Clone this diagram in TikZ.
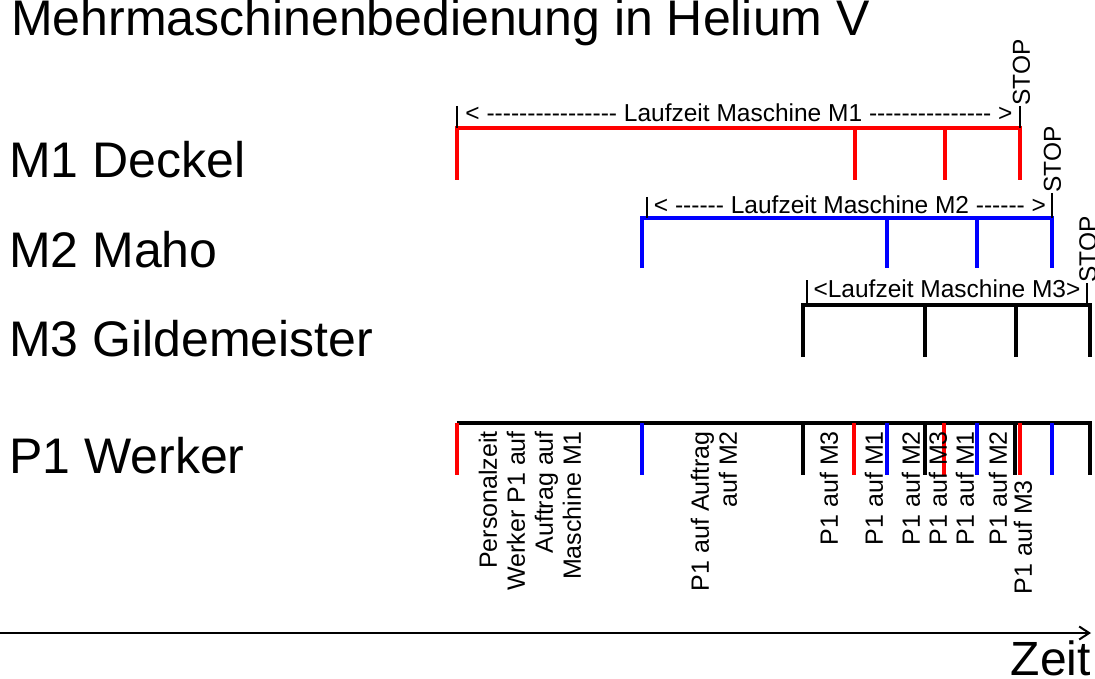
\documentclass[tikz,border=0pt]{standalone}
\usepackage{fontspec}
\setmainfont{Liberation Sans}
\usetikzlibrary{arrows.meta}
\begin{document}
\begin{tikzpicture}[x=1pt,y=-1pt,
  big/.style={font=\fontsize{50}{56}\selectfont, inner sep=0pt, anchor=base west},
  smalllab/.style={font=\fontsize{24.5}{28}\selectfont, inner sep=0pt, anchor=base},
  stoplab/.style={font=\fontsize{24.5}{28}\selectfont, inner sep=0pt, rotate=90, anchor=west},
  rlab/.style={font=\fontsize{25}{28}\selectfont, inner sep=0pt, rotate=90, anchor=east, align=right},
  bar/.style={line width=4.5pt, line join=miter},
  tick/.style={line width=1.3pt, black},
  axis/.style={line width=2pt, -{Straight Barb[length=10pt,width=13pt,line width=2pt]}}
]
\useasboundingbox (0,0) rectangle (1095,679);

% titles and row labels
\node[big] (title) at (11,36) {Mehrmaschinenbedienung in Helium V};
\node[big] (m1) at (9,178) {M1 Deckel};
\node[big] (m2) at (9,267) {M2 Maho};
\node[big] (m3) at (9,356) {M3 Gildemeister};
\node[big] (p1) at (9,473) {P1 Werker};

% ---- M1 (red)
\coordinate (a1) at (457,128); \coordinate (b1) at (1020,128);
\draw[bar, red] (457,180) -- (a1) -- (b1) -- (1020,180);
\draw[bar, red] (855,128) -- (855,180);
\draw[bar, red] (945,128) -- (945,180);
\draw[tick] (457,106) -- (a1);
\draw[tick] (1020,106) -- (b1);
\node[smalllab] (l1) at (739,122) {< {-}{-}{-}{-}{-}{-}{-}{-}{-}{-}{-}{-}{-}{-}{-}{-} Laufzeit Maschine M1 {-}{-}{-}{-}{-}{-}{-}{-}{-}{-}{-}{-}{-}{-}{-} >};
\node[stoplab] (s1) at (1021.5,106) {STOP};

% ---- M2 (blue)
\coordinate (a2) at (642,218); \coordinate (b2) at (1052,218);
\draw[bar, blue] (642,268) -- (a2) -- (b2) -- (1052,268);
\draw[bar, blue] (887,218) -- (887,268);
\draw[bar, blue] (977,218) -- (977,268);
\draw[tick] (647,197) -- (647,218);
\draw[tick] (1052,193) -- (b2);
\node[smalllab] (l2) at (850,214) {< {-}{-}{-}{-}{-}{-} Laufzeit Maschine M2 {-}{-}{-}{-}{-}{-} >};
\node[stoplab] (s2) at (1052.5,193) {STOP};

% ---- M3 (black)
\coordinate (a3) at (803,305); \coordinate (b3) at (1090,305);
\draw[bar, black] (803,357) -- (a3) -- (b3) -- (1090,357);
\draw[bar, black] (925,305) -- (925,357);
\draw[bar, black] (1016,305) -- (1016,357);
\draw[tick] (807,280) -- (807,305);
\draw[tick] (1087,283) -- (1087,305);
\node[smalllab] (l3) at (947,297) {<Laufzeit Maschine M3>};
\node[stoplab] (s3) at (1088,283) {STOP};

% ---- P1 (worker)
\coordinate (a4) at (457,423); \coordinate (b4) at (1090,423);
\draw[bar, black] (a4) -- (b4) -- (1090,475);
\draw[bar, black] (803,423) -- (803,475);
\draw[bar, black] (925,423) -- (925,475);
\draw[bar, black] (1015,423) -- (1015,475);
\draw[bar, red] (457,423) -- (457,475);
\draw[bar, red] (854,423) -- (854,475);
\draw[bar, red] (944,423) -- (944,475);
\draw[bar, red] (1020,423) -- (1020,475);
\draw[bar, blue] (642,423) -- (642,475);
\draw[bar, blue] (887,423) -- (887,475);
\draw[bar, blue] (977,423) -- (977,475);
\draw[bar, blue] (1052,423) -- (1052,475);

% rotated labels
\node[rlab] (t1) at (530,431) {Personalzeit\\Werker P1 auf\\Auftrag auf\\Maschine M1};
\node[rlab] (t2) at (714,431) {P1 auf Auftrag\\auf M2};
\node[rlab] (t3) at (829,431) {P1 auf M3};
\node[rlab] (t4) at (874,431) {P1 auf M1};
\node[rlab] (t5) at (911,431) {P1 auf M2};
\node[rlab] (t6) at (938,431) {P1 auf M3};
\node[rlab] (t7) at (965,431) {P1 auf M1};
\node[rlab] (t8) at (998,431) {P1 auf M2};
\node[rlab] (t9) at (1023,480) {P1 auf M3};

% time axis
\coordinate (ax0) at (0,633);
\coordinate (ax1) at (1091,633);
\draw[axis] (ax0) -- (ax1);
\node[font=\fontsize{48}{54}\selectfont, inner sep=0pt, anchor=base east] (zeit) at (1091,675) {Zeit};
\end{tikzpicture}
\end{document}
